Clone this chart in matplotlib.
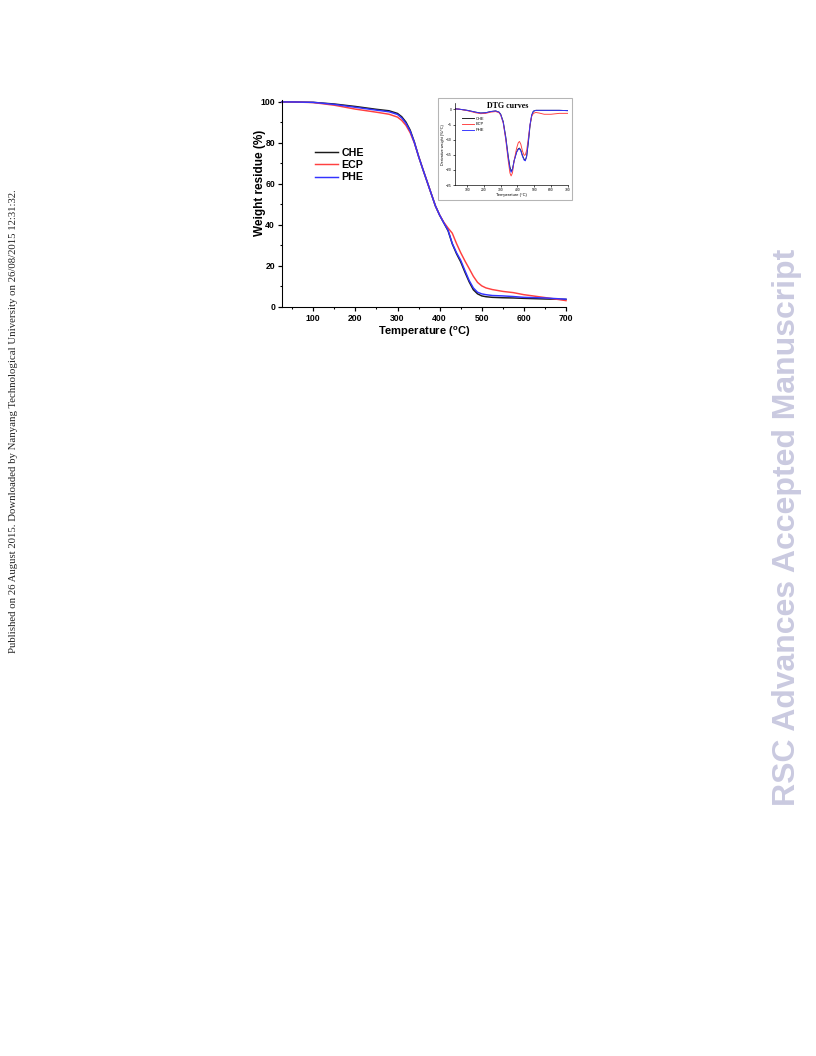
import matplotlib.pyplot as plt
from matplotlib.patches import Rectangle
from matplotlib.ticker import MultipleLocator

plt.rcParams['font.family'] = ['Liberation Sans', 'DejaVu Sans']
plt.rcParams['mathtext.fontset'] = 'custom'
plt.rcParams['mathtext.rm'] = 'Liberation Sans'
plt.rcParams['mathtext.bf'] = 'Liberation Sans:bold'

# TGA curves (weight residue, %)
temp = [25, 50, 100, 150, 200, 250, 280, 300, 310, 320, 330, 340, 350, 360, 370,
        380, 390, 400, 410, 420, 430, 440, 450, 460, 470, 480, 490, 500, 510, 525,
        550, 575, 600, 650, 700]
che = [100, 100, 99.8, 99.0, 97.8, 96.4, 95.7, 94.4, 92.8, 90.2, 86.3, 80.5, 73.5, 67.3, 61.3,
       55.3, 49.3, 44.8, 41.0, 37.2, 30.8, 26.0, 22.0, 17.0, 12.3, 8.4, 6.4, 5.4, 5.0, 4.7,
       4.5, 4.4, 4.2, 3.9, 3.7]
ecp = [100, 100, 99.7, 98.4, 96.5, 95.0, 94.0, 92.6, 91.0, 88.6, 85.0, 80.0, 73.5, 67.3, 61.3,
       55.3, 49.3, 44.8, 41.3, 38.5, 36.0, 31.0, 26.5, 22.5, 18.8, 15.0, 12.0, 10.3, 9.3, 8.5,
       7.6, 7.0, 6.0, 4.6, 3.1]
phe = [100, 100, 99.8, 98.8, 97.4, 96.0, 95.2, 93.9, 92.2, 89.6, 85.8, 80.2, 73.5, 67.3, 61.3,
       55.3, 49.3, 44.8, 41.0, 37.5, 31.0, 26.5, 22.8, 17.8, 13.0, 9.3, 7.2, 6.4, 6.0, 5.6,
       5.4, 5.1, 4.7, 4.4, 3.8]

# DTG curves (derivative weight)
temp_dtg = [25, 50, 100, 150, 180, 210, 240, 270, 290, 300, 315, 330, 345, 355, 362, 370,
            380, 395, 405, 412, 420, 430, 440, 447, 455, 465, 475, 485, 495, 510, 530,
            560, 600, 650, 700]
che_dtg = [0.2, 0.1, -0.3, -0.9, -1.2, -1.1, -0.7, -0.5, -0.9, -1.6, -4.0, -9.0, -15.5, -19.0,
           -20.3, -19.8, -17.0, -14.0, -13.0, -12.8, -13.5, -15.3, -16.5, -16.8, -15.5, -11.0,
           -5.5, -2.0, -0.6, -0.3, -0.3, -0.3, -0.3, -0.3, -0.4]
ecp_dtg = [0.2, 0.1, -0.4, -1.1, -1.4, -1.3, -0.9, -0.7, -1.1, -1.9, -4.5, -10.0, -17.0, -21.0,
           -22.0, -21.0, -17.0, -12.8, -11.0, -10.6, -11.5, -13.8, -15.2, -15.0, -13.5, -9.5,
           -5.0, -2.3, -1.3, -1.0, -1.2, -1.6, -1.6, -1.3, -1.3]
phe_dtg = [0.2, 0.1, -0.3, -0.9, -1.2, -1.1, -0.7, -0.5, -0.9, -1.7, -4.3, -9.5, -16.0, -19.5,
           -20.8, -20.0, -17.0, -14.2, -13.2, -13.0, -13.7, -15.5, -16.8, -17.0, -15.5, -10.5,
           -5.0, -1.8, -0.6, -0.3, -0.3, -0.3, -0.3, -0.3, -0.4]

labels = ['CHE', 'ECP', 'PHE']
colors = ['#1a1a1a', '#ff4040', '#3333ff']

fig = plt.figure(figsize=(8.5, 11), dpi=96)

# main TGA plot
ax = fig.add_axes([0.3452, 0.7093, 0.3484, 0.1961])
for y, lab, c in zip([che, ecp, phe], labels, colors):
    ax.plot(temp, y, color=c, lw=1.1, label=lab, clip_on=False)
ax.set_xlim(25, 700)
ax.set_ylim(0, 101)
ax.spines['top'].set_visible(False)
ax.spines['right'].set_visible(False)
ax.xaxis.set_major_locator(MultipleLocator(100))
ax.xaxis.set_minor_locator(MultipleLocator(50))
ax.yaxis.set_major_locator(MultipleLocator(20))
ax.yaxis.set_minor_locator(MultipleLocator(10))
ax.set_xticks(range(100, 701, 100))
ax.tick_params(which='major', direction='out', length=3, width=0.9, labelsize=6.5, pad=2)
ax.tick_params(which='minor', direction='out', length=1.8, width=0.8)
for t in ax.get_xticklabels() + ax.get_yticklabels():
    t.set_fontweight('bold')
ax.set_xlabel(r'Temperature ($\mathbf{^{o}}$C)', fontsize=8.3, fontweight='bold')
ax.set_ylabel('Weight residue (%)', fontsize=8.8, fontweight='bold')
ax.xaxis.set_label_coords(0.5, -0.085)
ax.yaxis.set_label_coords(-0.055, 0.6)
ax.legend(loc='upper left', bbox_to_anchor=(0.386, 0.8598), bbox_transform=fig.transFigure,
          frameon=False, handlelength=2.2, handletextpad=0.3,
          labelspacing=0.2, borderpad=0, borderaxespad=0, prop={'weight': 'bold', 'size': 8})

# inset frame
fig.patches.append(Rectangle((0.5368, 0.8106), 0.1642, 0.0966, transform=fig.transFigure,
                             facecolor='white', edgecolor='#b5b5b5', lw=0.8, zorder=1))

# DTG inset
ax2 = fig.add_axes([0.5572, 0.8248, 0.1385, 0.0773], zorder=2)
ax2.patch.set_alpha(0)
for y, lab, c in zip([che_dtg, ecp_dtg, phe_dtg], labels, colors):
    ax2.plot(temp_dtg, y, color=c, lw=0.7, label=lab)
ax2.set_xlim(25, 700)
ax2.set_ylim(-25, 2)
ax2.spines['top'].set_visible(False)
ax2.spines['right'].set_visible(False)
for s in ['left', 'bottom']:
    ax2.spines[s].set_linewidth(0.5)
ax2.set_xticks(range(100, 701, 100))
ax2.set_yticks([0, -5, -10, -15, -20, -25])
ax2.tick_params(direction='out', length=1.2, width=0.5, labelsize=2.5, pad=1)
ax2.set_xlabel('Temperature (°C)', fontsize=3, labelpad=0.5)
ax2.set_ylabel('Derivative weight (%/°C)', fontsize=2.8, labelpad=1)
ax2.legend(loc='upper left', bbox_to_anchor=(0.566, 0.8893), bbox_transform=fig.transFigure,
           frameon=False, fontsize=3, handlelength=3, handletextpad=0.5,
           labelspacing=0.4, borderpad=0, borderaxespad=0)
fig.text(0.6225, 0.8995, 'DTG curves', fontsize=6, fontweight='bold',
         family=['Liberation Serif', 'DejaVu Serif'], ha='center', va='center')

# page watermarks
fig.text(0.016, 0.601,
         'Published on 26 August 2015. Downloaded by Nanyang Technological University on 26/08/2015 12:31:32.',
         rotation=90, fontsize=8.1, family=['Liberation Serif', 'DejaVu Serif'],
         ha='center', va='center', color='#222222')
fig.text(0.965, 0.501, 'RSC Advances Accepted Manuscript', rotation=90, fontsize=24,
         fontweight='bold', color='#cacae0', ha='center', va='center')

fig.savefig('out.png', dpi=96)
